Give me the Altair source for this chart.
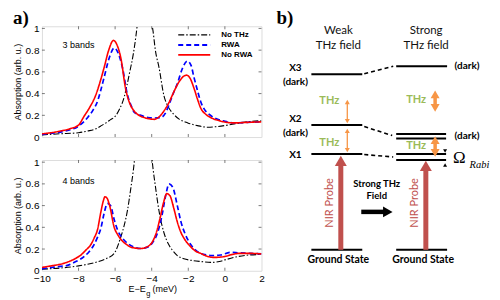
import altair as alt
import pandas as pd

SANS = "Liberation Sans"
SERIF = "Liberation Serif"
DIAG = "Lato"

# ---------------- panel (a) data ----------------
series_names = ["No THz", "RWA", "No RWA"]
series_colors = ["#000000", "#0000ff", "#ff0000"]
series_dashes = [[6, 2, 1.5, 2], [5, 3], [1, 0]]
series_widths = [1.1, 1.7, 1.6]

x_tick_vals = [-10, -8, -6, -4, -2, 0, 2]
y_tick_vals = [0, 0.2, 0.4, 0.6, 0.8, 1]

# 3 bands (top)
top_nothz_x = [-10, -9, -8, -7.5, -7, -6.8, -6.5, -6.25, -6, -5.75, -5.5, -5.4, -5.2, -5, -4.87, -4.75, -4.6,
               -4.43, -4.25, -4.1, -3.93, -3.8, -3.6, -3.33, -3.1, -2.8, -2.5, -2.03, -1.5, -0.93, -0.5, 0.16,
               0.5, 1, 1.5, 2]
top_nothz_y = [0.02, 0.03, 0.04, 0.055, 0.08, 0.1, 0.13, 0.16, 0.19, 0.26, 0.37, 0.44, 0.6, 0.77, 0.92, 1.1, 1.45,
               1.7, 1.45, 1.15, 0.98, 0.8, 0.64, 0.38, 0.28, 0.21, 0.165, 0.13, 0.105, 0.09, 0.095, 0.11,
               0.12, 0.135, 0.145, 0.15]
top_rwa_x = [-10, -9.5, -9, -8.5, -8, -7.5, -7.2, -6.96, -6.8, -6.6, -6.3, -6.05, -5.85, -5.6, -5.33, -5.1, -4.96,
             -4.6, -4.2, -3.87, -3.5, -3.25, -3.05, -2.8, -2.6, -2.35, -2.05, -1.85, -1.69, -1.5, -1.33, -1.1,
             -0.87, -0.5, 0, 0.49, 1.2, 2]
top_rwa_y = [0.025, 0.035, 0.045, 0.065, 0.1, 0.18, 0.25, 0.33, 0.42, 0.55, 0.74, 0.82, 0.78, 0.64, 0.39, 0.28,
             0.23, 0.2, 0.18, 0.175, 0.18, 0.22, 0.3, 0.41, 0.49, 0.62, 0.70, 0.66, 0.55, 0.43, 0.33, 0.25,
             0.21, 0.17, 0.145, 0.13, 0.135, 0.14]
top_norwa_x = [-10, -9.5, -9, -8.5, -8, -7.7, -7.4, -7.05, -6.8, -6.6, -6.35, -6.09, -5.9, -5.69, -5.42, -5.2,
               -4.96, -4.7, -4.42, -4.1, -3.87, -3.6, -3.33, -3.05, -2.78, -2.5, -2.25, -2.09, -1.9, -1.69, -1.5,
               -1.33, -1.05, -0.78, -0.3, 0.49, 1.2, 2]
top_norwa_y = [0.03, 0.04, 0.055, 0.075, 0.11, 0.19, 0.27, 0.39, 0.52, 0.64, 0.8, 0.89, 0.85, 0.73, 0.44, 0.31,
               0.24, 0.2, 0.18, 0.167, 0.163, 0.185, 0.24, 0.32, 0.42, 0.51, 0.56, 0.57, 0.54, 0.45, 0.35,
               0.27, 0.21, 0.18, 0.15, 0.13, 0.135, 0.14]

# 4 bands (bottom)
bot_nothz_x = [-10, -9, -8, -7.5, -7, -6.5, -6.05, -5.69, -5.5, -5.32, -5.15, -4.96, -4.8, -4.6, -4.45, -4.3,
               -4.1, -3.96, -3.8, -3.6, -3.33, -3.1, -2.87, -2.6, -2.24, -1.8, -1.3, -0.78, -0.3, 0, 0.68, 1.3, 2]
bot_nothz_y = [0.015, 0.025, 0.045, 0.06, 0.08, 0.11, 0.16, 0.31, 0.42, 0.56, 0.75, 0.99, 1.3, 1.7, 1.85, 1.7,
               1.25, 0.99, 0.78, 0.55, 0.35, 0.25, 0.19, 0.14, 0.11, 0.095, 0.085, 0.077, 0.085, 0.1, 0.13,
               0.145, 0.15]
bot_rwa_x = [-10, -9.5, -9, -8.6, -8.2, -7.7, -7.4, -7.15, -6.96, -6.78, -6.6, -6.42, -6.25, -6.05, -5.85, -5.6,
             -5.3, -5, -4.6, -4.2, -3.95, -3.7, -3.45, -3.25, -3.05, -2.85, -2.6, -2.4, -2.15, -1.86, -1.6,
             -1.32, -1, -0.78, -0.24, 0.3, 0.77, 1.4, 2]
bot_rwa_y = [0.02, 0.03, 0.04, 0.05, 0.08, 0.13, 0.18, 0.24, 0.31, 0.39, 0.53, 0.62, 0.6, 0.47, 0.37, 0.3,
             0.25, 0.22, 0.205, 0.22, 0.26, 0.34, 0.5, 0.68, 0.8, 0.77, 0.6, 0.45, 0.33, 0.24, 0.19,
             0.16, 0.145, 0.14, 0.145, 0.17, 0.165, 0.16, 0.155]
bot_norwa_x = [-10, -9.5, -9, -8.6, -8.2, -7.87, -7.6, -7.33, -7.15, -6.96, -6.78, -6.65, -6.56, -6.45, -6.3,
               -6.05, -5.85, -5.69, -5.4, -5.1, -4.6, -4.2, -3.95, -3.75, -3.55, -3.35, -3.18, -3.0, -2.8, -2.6,
               -2.42, -2.2, -1.86, -1.6, -1.32, -1, -0.6, -0.05, 0.4, 0.77, 1.4, 2]
bot_norwa_y = [0.03, 0.045, 0.06, 0.08, 0.11, 0.145, 0.19, 0.24, 0.3, 0.38, 0.54, 0.64, 0.68, 0.67, 0.6,
               0.4, 0.33, 0.29, 0.245, 0.215, 0.205, 0.225, 0.27, 0.35, 0.48, 0.63, 0.71, 0.69, 0.58, 0.45,
               0.36, 0.29, 0.22, 0.18, 0.16, 0.135, 0.123, 0.13, 0.15, 0.16, 0.16, 0.155]

legend_rows_y = [0.94, 0.848, 0.756]

xscale = alt.Scale(domain=[-10, 2], nice=False, zero=False, padding=0)
yscale = alt.Scale(domain=[0, 1.02], nice=False, zero=False, padding=0)


def make_panel(xs_list, ys_list, band_text, band_y, bottom):
    rows = []
    for name, xs_, ys_ in zip(series_names, xs_list, ys_list):
        rows += [{"series": name, "x": a, "y": b} for a, b in zip(xs_, ys_)]
    df = pd.DataFrame(rows)
    if bottom:
        xaxis = alt.Axis(values=x_tick_vals, format="~r", ticks=False, tickSize=0, domain=False, grid=False,
                         labelPadding=3, labelFlush=False, title=None)
    else:
        xaxis = None
    yaxis = alt.Axis(values=y_tick_vals, format="~r", ticks=False, tickSize=0, domain=False, grid=False,
                     labelPadding=3, labelFlush=False, title="Absorption (arb. u.)", titlePadding=3,
                     titleFontWeight="normal", titleFontSize=9, titleFont=SANS)

    def XF(f):
        return alt.X(f, type="quantitative", scale=xscale, axis=xaxis)

    def YF(f):
        return alt.Y(f, type="quantitative", scale=yscale, axis=yaxis)

    layers = []
    for name, c, d, w in zip(series_names, series_colors, series_dashes, series_widths):
        layers.append(
            alt.Chart(df).transform_filter(alt.datum.series == name)
            .mark_line(color=c, strokeDash=d, strokeWidth=w, interpolate="monotone", clip=True)
            .encode(x=XF("x"), y=YF("y"))
        )
    # short inward tick segments on all four sides of the frame
    inner_x = x_tick_vals[1:-1]
    inner_y = y_tick_vals[1:]
    tx = pd.DataFrame({"x": inner_x * 2,
                       "y1": [0.0] * len(inner_x) + [1.02] * len(inner_x),
                       "y2": [0.028] * len(inner_x) + [0.992] * len(inner_x)})
    ty = pd.DataFrame({"y": inner_y * 2,
                       "x1": [-10.0] * len(inner_y) + [2.0] * len(inner_y),
                       "x2": [-9.84] * len(inner_y) + [1.84] * len(inner_y)})
    layers.append(alt.Chart(tx).mark_rule(strokeWidth=0.7, color="#444")
                  .encode(x=XF("x"), y=YF("y1"), y2="y2"))
    layers.append(alt.Chart(ty).mark_rule(strokeWidth=0.7, color="#444")
                  .encode(x=XF("x1"), x2="x2", y=YF("y")))
    # band label
    bdf = pd.DataFrame({"t": [band_text], "x": [-8.0], "y": [band_y]})
    layers.append(alt.Chart(bdf).mark_text(font=SANS, fontSize=9, color="black", align="center",
                                           baseline="middle")
                  .encode(x=XF("x"), y=YF("y"), text="t:N"))
    if not bottom:
        # legend
        for name, c, d, w, ly in zip(series_names, series_colors, series_dashes, series_widths, legend_rows_y):
            ldf = pd.DataFrame({"x1": [-2.55], "x2": [-0.8], "y": [ly], "xt": [-0.2], "t": [name]})
            layers.append(alt.Chart(ldf).mark_rule(color=c, strokeDash=d, strokeWidth=w + 0.2)
                          .encode(x=XF("x1"), x2="x2", y=YF("y")))
            layers.append(alt.Chart(ldf).mark_text(font=SANS, fontSize=8, fontWeight="bold", color="black",
                                                   align="left", baseline="middle")
                          .encode(x=XF("xt"), y=YF("y"), text="t:N"))
        adf = pd.DataFrame({"t": ["a)"]})
        layers.append(alt.Chart(adf).mark_text(font=SERIF, fontSize=19, fontWeight="bold", color="black",
                                               align="left", baseline="alphabetic")
                      .encode(x=alt.value(-29), y=alt.value(-2.5), text="t:N"))
    else:
        # x-axis title E-E_g (meV), built from pieces so that g can be a subscript
        title_y = [-0.2]
        t1 = pd.DataFrame({"t": ["E\u2212E"], "x": [-4.33], "y": title_y})
        t2 = pd.DataFrame({"t": ["g"], "x": [-4.3], "y": [title_y[0] - 0.028]})
        t3 = pd.DataFrame({"t": ["(meV)"], "x": [-3.95], "y": title_y})
        layers.append(alt.Chart(t1).mark_text(font=SANS, fontSize=9, color="black", align="right",
                                              baseline="alphabetic")
                      .encode(x=XF("x"), y=YF("y"), text="t:N"))
        layers.append(alt.Chart(t2).mark_text(font=SANS, fontSize=7.5, color="black", align="left",
                                              baseline="alphabetic")
                      .encode(x=XF("x"), y=YF("y"), text="t:N"))
        layers.append(alt.Chart(t3).mark_text(font=SANS, fontSize=9, color="black", align="left",
                                              baseline="alphabetic")
                      .encode(x=XF("x"), y=YF("y"), text="t:N"))
    return alt.layer(*layers).properties(width=220, height=111)


top = make_panel([top_nothz_x, top_rwa_x, top_norwa_x], [top_nothz_y, top_rwa_y, top_norwa_y],
                 "3 bands", 0.848, False)
bottom = make_panel([bot_nothz_x, bot_rwa_x, bot_norwa_x], [bot_nothz_y, bot_rwa_y, bot_norwa_y],
                    "4 bands", 0.83, True)
left = alt.vconcat(top, bottom, spacing=13)

# ---------------- panel (b) diagram data ----------------
ORANGE = "#F79646"
GREEN = "#9BBB59"
NIRRED = "#C0504D"

level_x1 = [308, 308, 308, 308, 393, 393, 393, 393, 393, 393]
level_x2 = [359, 359, 359, 359, 444, 443, 443, 443, 443, 444]
level_y = [73, 124, 153, 249, 65, 133, 137.5, 153, 159, 249]

conn_x1 = [361, 361, 361]
conn_y1 = [72.5, 125.5, 153.5]
conn_x2 = [390, 389, 390]
conn_y2 = [65, 134.5, 156]

thz_arrow_x = [344, 344, 432, 432]
thz_arrow_top = [98, 127, 88, 134]
thz_arrow_bot = [123, 152, 112, 157]
thz_arrow_w = [1.3, 1.3, 3.5, 3.5]
thz_head = [25, 25, 81, 81]

nir_x = [337.5, 422.7]
nir_tip = [153, 158]
nir_base = [249, 249]

field_arrow = {"x1": 358, "tip": 391, "y": 211}

thz_labels = ["THz", "THz", "THz", "THz"]
thz_label_x = [326, 326, 413, 413]
thz_label_y = [100, 142, 99, 145]

state_labels = ["X3", "(dark)", "X2", "(dark)", "X1", "(dark)", "(dark)"]
state_label_x = [292, 292, 292, 292, 292, 464, 464]
state_label_y = [67, 80.5, 118, 132, 154, 65, 135]

heading_labels = ["Weak", "THz field", "Strong", "THz field"]
heading_x = [335, 335, 423, 423]
heading_y = [29.5, 45, 29.5, 45]

ground_labels = ["Ground State", "Ground State"]
ground_x = [335, 420]
ground_y = [259.5, 259.5]

field_labels = ["Strong THz", "Field"]
field_x = [373.5, 373.5]
field_y = [183, 195]

nir_labels = ["NIR Probe", "NIR Probe"]
nir_label_x = [326.5, 412]
nir_label_y = [202, 202]

# diagram coordinates: page-like units; origin aligned with the top plot's frame (page y 25)
xd = alt.Scale(domain=[266, 488], nice=False, zero=False, padding=0)
yd = alt.Scale(domain=[25, 290], nice=False, zero=False, reverse=True, padding=0)


def X(f):
    return alt.X(f, type="quantitative", scale=xd, axis=None)


def Y(f):
    return alt.Y(f, type="quantitative", scale=yd, axis=None)


dl = []
lev = pd.DataFrame({"x1": level_x1, "x2": level_x2, "y": level_y})
dl.append(alt.Chart(lev).mark_rule(color="black", strokeWidth=2).encode(x=X("x1"), x2="x2", y=Y("y")))
con = pd.DataFrame({"x1": conn_x1, "y1": conn_y1, "x2": conn_x2, "y2": conn_y2})
dl.append(alt.Chart(con).mark_rule(color="black", strokeWidth=1.6, strokeDash=[4, 3])
          .encode(x=X("x1"), y=Y("y1"), x2="x2", y2="y2"))

heads = []
shafts = []
for x, t, b, w, s in zip(thz_arrow_x, thz_arrow_top, thz_arrow_bot, thz_arrow_w, thz_head):
    r = s ** 0.5 / 2
    off = 1.155 * r
    shafts.append({"x": x, "y1": t + off, "y2": b - off, "w": w, "c": ORANGE})
    heads.append({"x": x, "y": t + off, "shape": "triangle-up", "size": s, "c": ORANGE})
    heads.append({"x": x, "y": b - off, "shape": "triangle-down", "size": s, "c": ORANGE})
for x, t, b in zip(nir_x, nir_tip, nir_base):
    s = 144
    r = s ** 0.5 / 2
    off = 1.155 * r
    shafts.append({"x": x, "y1": t + off + 2, "y2": b, "w": 5, "c": NIRRED})
    heads.append({"x": x, "y": t + off, "shape": "triangle-up", "size": s, "c": NIRRED})
heads.append({"x": 442, "y": 150, "shape": "triangle-down", "size": 16, "c": "black"})
heads.append({"x": 442, "y": 164, "shape": "triangle-up", "size": 16, "c": "black"})
sh = pd.DataFrame(shafts)
dl.append(alt.Chart(sh).mark_rule().encode(x=X("x"), y=Y("y1"), y2="y2",
                                            strokeWidth=alt.StrokeWidth("w:Q", scale=None),
                                            color=alt.Color("c:N", scale=None)))
fa = pd.DataFrame({"x1": [field_arrow["x1"]], "x2": [field_arrow["tip"] - 9], "y": [field_arrow["y"]]})
dl.append(alt.Chart(fa).mark_rule(color="black", strokeWidth=4.5).encode(x=X("x1"), x2="x2", y=Y("y")))
heads.append({"x": field_arrow["tip"] - 6.4, "y": field_arrow["y"], "shape": "triangle-right", "size": 121,
              "c": "black"})
hd = pd.DataFrame(heads)
dl.append(alt.Chart(hd).mark_point(filled=True, opacity=1, strokeWidth=0)
          .encode(x=X("x"), y=Y("y"), shape=alt.Shape("shape:N", scale=None),
                  size=alt.Size("size:Q", scale=None), color=alt.Color("c:N", scale=None)))


def texts(labels, xs_, ys_, **kw):
    df = pd.DataFrame({"t": labels, "x": xs_, "y": ys_})
    return alt.Chart(df).mark_text(**kw).encode(x=X("x"), y=Y("y"), text="t:N")


dl.append(texts(heading_labels, heading_x, heading_y, font=DIAG, fontSize=11.5, color="#111",
                align="center", baseline="middle"))
dl.append(texts(state_labels, state_label_x, state_label_y, font=DIAG, fontSize=10, fontWeight="bold",
                color="black", align="center", baseline="middle"))
dl.append(texts(thz_labels, thz_label_x, thz_label_y, font=DIAG, fontSize=11, fontWeight="bold",
                color=GREEN, align="center", baseline="middle"))
dl.append(texts(ground_labels, ground_x, ground_y, font=DIAG, fontSize=10.5, fontWeight="bold",
                color="black", align="center", baseline="middle"))
dl.append(texts(field_labels, field_x, field_y, font=DIAG, fontSize=9.5, fontWeight="bold",
                color="black", align="center", baseline="middle"))
dl.append(texts(nir_labels, nir_label_x, nir_label_y, font=DIAG, fontSize=11, color=NIRRED,
                align="center", baseline="middle", angle=270))
dl.append(texts(["\u03a9"], [450], [161.7], font=SERIF, fontSize=17, color="black", align="left",
                baseline="alphabetic"))
dl.append(texts(["Rabi"], [466.5], [166.7], font=SERIF, fontSize=10.5, fontStyle="italic", color="black",
                align="left", baseline="alphabetic"))
dl.append(texts(["b)"], [273], [23], font=SERIF, fontSize=19, fontWeight="bold", color="black",
                align="left", baseline="alphabetic"))

diagram = alt.layer(*dl).properties(width=222, height=265,
                                    view=alt.ViewBackground(stroke="transparent"))

chart = alt.hconcat(left, diagram, spacing=3).properties(
    padding={"left": 4, "top": 0, "right": 0, "bottom": 0}
).configure_view(stroke="#333", strokeWidth=0.9).configure_axis(
    labelFont=SANS, labelFontSize=9, labelColor="black", titleFont=SANS, titleFontSize=9,
    titleFontWeight="normal", titleColor="black"
).configure(background="white")

chart.save("out.html", embed_options={"renderer": "svg", "actions": False})
